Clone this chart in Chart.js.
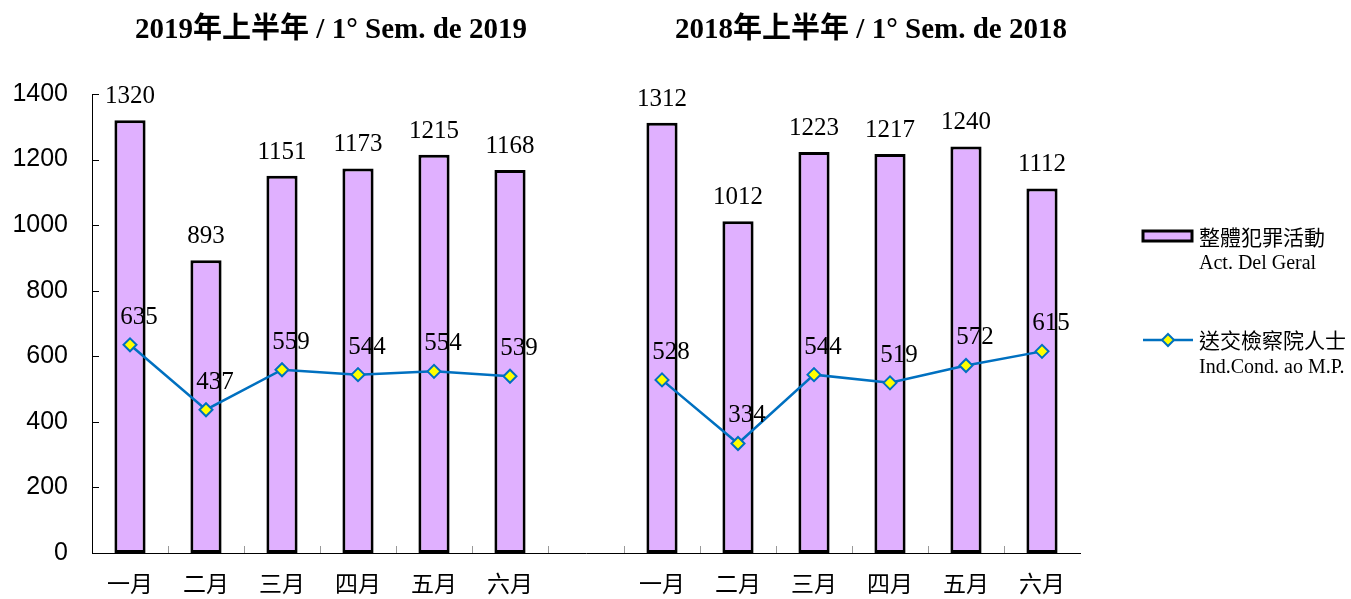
<!DOCTYPE html>
<html>
<head>
<meta charset="utf-8">
<script src="https://cdn.jsdelivr.net/npm/chart.js@4.4.0/dist/chart.umd.min.js"></script>
<style>
  html, body { margin: 0; padding: 0; background: #fff; }
  #wrap { position: relative; width: 1351px; height: 599px; }
</style>
</head>
<body>
<div id="wrap"><canvas id="crimeChart"></canvas></div>
<script>
// values
const months = ['一月', '二月', '三月', '四月', '五月', '六月'];
const periodTitles = ['2019年上半年 / 1° Sem. de 2019', '2018年上半年 / 1° Sem. de 2018'];
const crimes2019 = [1320, 893, 1151, 1173, 1215, 1168];
const crimes2018 = [1312, 1012, 1223, 1217, 1240, 1112];
const referred2019 = [635, 437, 559, 544, 554, 539];
const referred2018 = [528, 334, 544, 519, 572, 615];
const yTicks = [0, 200, 400, 600, 800, 1000, 1200, 1400];
const seriesNames = [['整體犯罪活動', 'Act. Del Geral'], ['送交檢察院人士', 'Ind.Cond. ao M.P.']];

// one empty category keeps the two half-years apart
const labels = [...months, '', ...months];
const barValues = [...crimes2019, null, ...crimes2018];
const lineValues = [...referred2019, null, ...referred2018];

const serif = "'Liberation Serif', 'Times New Roman', serif";
const cjk = "'Noto Sans CJK TC', sans-serif";
const barFill = '#E0B0FF';
const lineBlue = '#0070C0';

// numbers above bars and points
const valueLabels = {
  id: 'valueLabels',
  afterDatasetsDraw(chart) {
    const ctx = chart.ctx;
    ctx.save();
    ctx.fillStyle = '#000';
    ctx.font = '25px ' + serif;
    ctx.textAlign = 'center';
    ctx.textBaseline = 'alphabetic';
    chart.data.datasets.forEach((ds, di) => {
      const meta = chart.getDatasetMeta(di);
      meta.data.forEach((el, i) => {
        const v = ds.data[i];
        if (v == null) return;
        if (ds.type === 'bar') {
          ctx.fillText(v, el.x, el.y - 17);
        } else {
          ctx.fillText(v, el.x + 9, el.y - 21);
        }
      });
    });
    ctx.restore();
  }
};

// half-year titles, small inner ticks and the legend on the right
const decorations = {
  id: 'decorations',
  afterDraw(chart) {
    const ctx = chart.ctx;
    const x = chart.scales.x;
    const y = chart.scales.y;
    const area = chart.chartArea;
    ctx.save();

    // inner tick marks
    ctx.lineWidth = 1;
    ctx.strokeStyle = '#000';
    yTicks.forEach(t => {
      const py = Math.round(y.getPixelForValue(t)) + 0.5;
      ctx.beginPath();
      ctx.moveTo(area.left, py);
      ctx.lineTo(area.left + 7, py);
      ctx.stroke();
    });
    ctx.strokeStyle = '#999';
    for (let i = 1; i < labels.length; i++) {
      const px = Math.round((x.getPixelForValue(i - 1) + x.getPixelForValue(i)) / 2) + 0.5;
      ctx.beginPath();
      ctx.moveTo(px, area.bottom);
      ctx.lineTo(px, area.bottom - 7);
      ctx.stroke();
    }

    // titles
    ctx.fillStyle = '#000';
    ctx.font = 'bold 29px ' + serif + ", 'Noto Sans CJK TC'";
    ctx.textAlign = 'center';
    ctx.textBaseline = 'middle';
    const c1 = (x.getPixelForValue(0) + x.getPixelForValue(5)) / 2 + 11;
    const c2 = (x.getPixelForValue(7) + x.getPixelForValue(12)) / 2 + 19;
    ctx.fillText(periodTitles[0], c1, 31);
    ctx.fillText(periodTitles[1], c2, 31);

    // legend
    const lx = 1143;
    ctx.fillStyle = barFill;
    ctx.strokeStyle = '#000';
    ctx.lineWidth = 3;
    ctx.fillRect(lx, 231, 49, 10);
    ctx.strokeRect(lx, 231, 49, 10);

    ctx.strokeStyle = lineBlue;
    ctx.lineWidth = 2.5;
    ctx.beginPath();
    ctx.moveTo(lx, 340);
    ctx.lineTo(lx + 50, 340);
    ctx.stroke();
    ctx.fillStyle = '#FFFF00';
    ctx.lineWidth = 2;
    ctx.beginPath();
    ctx.moveTo(lx + 25, 334);
    ctx.lineTo(lx + 31, 340);
    ctx.lineTo(lx + 25, 346);
    ctx.lineTo(lx + 19, 340);
    ctx.closePath();
    ctx.fill();
    ctx.stroke();

    ctx.fillStyle = '#000';
    ctx.textAlign = 'left';
    ctx.textBaseline = 'middle';
    ctx.font = '21px ' + cjk;
    ctx.fillText(seriesNames[0][0], 1199, 237);
    ctx.fillText(seriesNames[1][0], 1199, 340);
    ctx.font = '20px ' + serif;
    ctx.fillText(seriesNames[0][1], 1199, 264);
    ctx.fillText(seriesNames[1][1], 1199, 368);
    ctx.restore();
  }
};

new Chart(document.getElementById('crimeChart'), {
  data: {
    labels: labels,
    datasets: [
      {
        type: 'line',
        label: seriesNames[1].join(' '),
        data: lineValues,
        borderColor: lineBlue,
        borderWidth: 2.5,
        pointStyle: 'rectRot',
        pointRadius: 6.5,
        pointBackgroundColor: '#FFFF00',
        pointBorderColor: lineBlue,
        pointBorderWidth: 2,
        spanGaps: false,
        tension: 0,
        order: 0
      },
      {
        type: 'bar',
        label: seriesNames[0].join(' '),
        data: barValues,
        backgroundColor: barFill,
        borderColor: '#000',
        borderWidth: 3,
        borderSkipped: false,
        categoryPercentage: 1,
        barPercentage: 0.41,
        order: 1
      }
    ]
  },
  options: {
    responsive: true,
    maintainAspectRatio: false,
    animation: false,
    layout: { padding: { top: 94, right: 271, bottom: 0, left: 0 } },
    plugins: {
      legend: { display: false },
      tooltip: { enabled: false }
    },
    scales: {
      x: {
        offset: true,
        grid: { display: false },
        border: { display: true, color: '#000', width: 1 },
        ticks: { font: { size: 23, family: cjk }, color: '#000', padding: 8 },
        afterFit(scale) { scale.height = 46; }
      },
      y: {
        min: 0,
        max: 1400,
        afterBuildTicks(scale) { scale.ticks = yTicks.map(v => ({ value: v })); },
        grid: { display: false, drawTicks: false },
        border: { display: true, color: '#000', width: 1 },
        ticks: {
          font: { size: 25, family: "'Liberation Sans', Arial, sans-serif" },
          color: '#000',
          padding: 24,
          callback: v => String(v)
        },
        afterFit(scale) { scale.width = 92; }
      }
    }
  },
  plugins: [valueLabels, decorations]
});
</script>
</body>
</html>
